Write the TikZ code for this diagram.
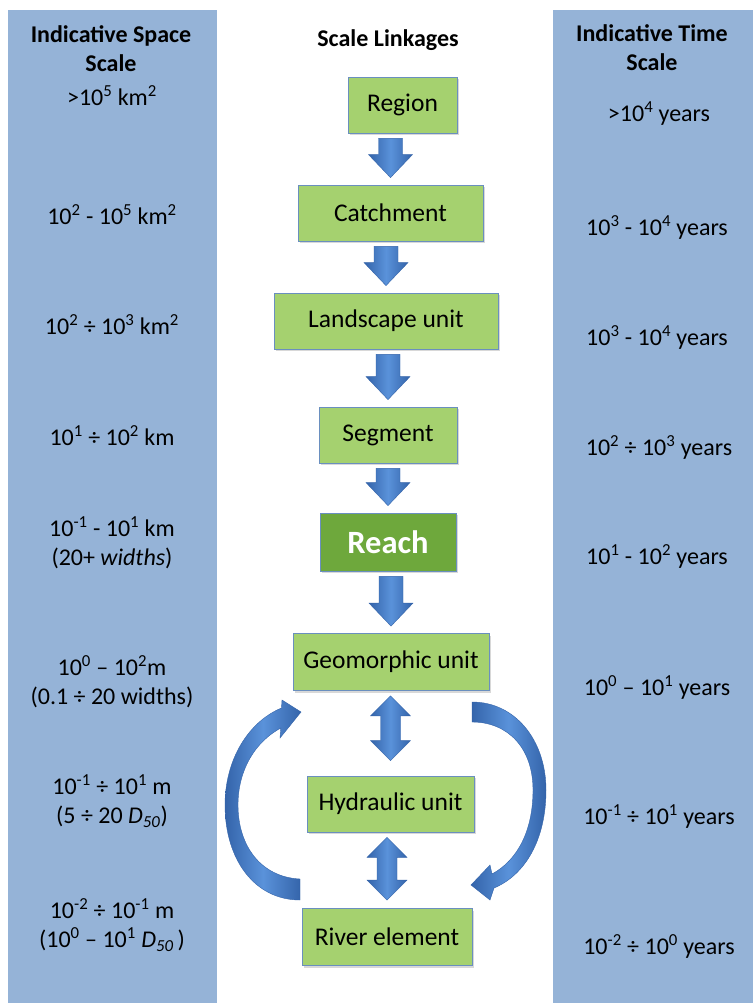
\documentclass[tikz,border=0pt]{standalone}
\usepackage{fontspec}
\setmainfont{Carlito}
\usetikzlibrary{shadows,calc}
\definecolor{panel}{HTML}{95B3D7}
\definecolor{boxgreen}{HTML}{A5D16F}
\definecolor{reachgreen}{HTML}{6EA83C}
\definecolor{boxline}{HTML}{6A8FBF}
\definecolor{arrowdark}{HTML}{3464AA}
\definecolor{arrowlight}{HTML}{5A92DA}
\newcommand\sps[1]{\textsuperscript{#1}}
\newcommand\dfifty{\textit{D}\textsubscript{\textit{50}}}
\newcommand\blkdown[2]{%
 \path[arr] let \p1=(#1.south), \p2=(#2.north) in
 (\x2-12pt,\y1-5pt) -- (\x2+12pt,\y1-5pt) -- (\x2+12pt,\y2+30pt) -- (\x2+22pt,\y2+30pt)
 -- (\x2,\y2+7pt) -- (\x2-22pt,\y2+30pt) -- (\x2-12pt,\y2+30pt) -- cycle;}
\newcommand\blkdouble[4]{%
 \path[arr] let \p1=(#1.south), \p2=(#2.north) in
 (\x2,\y1-#3) -- (\x2+20pt,\y1-#3-20pt) -- (\x2+10pt,\y1-#3-20pt) -- (\x2+10pt,\y2+#4+20pt)
 -- (\x2+20pt,\y2+#4+20pt) -- (\x2,\y2+#4) -- (\x2-20pt,\y2+#4+20pt) -- (\x2-10pt,\y2+#4+20pt)
 -- (\x2-10pt,\y1-#3-20pt) -- (\x2-20pt,\y1-#3-20pt) -- cycle;}
\begin{document}
\begin{tikzpicture}[x=1pt,y=-1pt,
  font=\fontsize{24}{29}\selectfont,
  box/.style={draw=boxline, line width=0.8pt, fill=boxgreen, inner sep=0pt, text=black,
    font=\fontsize{25.5}{30}\selectfont,
    drop shadow={shadow xshift=1.5pt, shadow yshift=-2pt, opacity=0.3}},
  reachbox/.style={box, fill=reachgreen, text=white, font=\fontsize{32.5}{38}\selectfont\bfseries},
  lbl/.style={align=center, inner sep=0pt, text=black},
  hdr/.style={lbl, font=\fontsize{24}{29}\selectfont\bfseries},
  arr/.style={draw=arrowdark, line width=0.4pt, left color=arrowdark, right color=arrowdark, middle color=arrowlight}]
\useasboundingbox (0,0) rectangle (753,1003);
\fill[white] (0,0) rectangle (753,1003);
% side panels
\fill[panel] (8,10) rectangle (217,1003);
\fill[panel] (553,10) rectangle (753,1003);
% headers
\node[hdr] (hs) at (111,49) {Indicative Space\\Scale};
\node[hdr] (hl) at (388,40) {Scale Linkages};
\node[hdr] (ht) at (652,48) {Indicative Time\\Scale};
% boxes
\node[box, minimum width=109pt, minimum height=56pt] (region) at (402.5,105) {Region};
\node[box, minimum width=185pt, minimum height=56pt] (catch) at (390.5,213) {Catchment};
\node[box, minimum width=224pt, minimum height=56pt] (land) at (386,321) {Landscape unit};
\node[box, minimum width=138pt, minimum height=56pt] (seg) at (388,435) {Segment};
\node[reachbox, minimum width=136pt, minimum height=58pt] (reach) at (388,542) {Reach};
\node[box, minimum width=196pt, minimum height=57pt] (geo) at (391,662) {Geomorphic unit};
\node[box, minimum width=167pt, minimum height=56pt] (hyd) at (390.5,804) {Hydraulic unit};
\node[box, minimum width=170pt, minimum height=57pt] (river) at (387,937) {River element};
% arrows
\blkdown{region}{catch}
\blkdown{catch}{land}
\blkdown{land}{seg}
\blkdown{seg}{reach}
\blkdown{reach}{geo}
\blkdouble{geo}{hyd}{5pt}{15pt}
\blkdouble{hyd}{river}{5pt}{8pt}
% curved arrows
\path[arr] (300,879) .. controls (260,877) and (238,845) .. (238,805)
  .. controls (238,770) and (255,742) .. (280.8,728)
  -- (280,738) -- (301,712) -- (282,700) -- (281.5,708)
  .. controls (248,722) and (225,760) .. (225,805)
  .. controls (225,860) and (255,900) .. (300,900) -- cycle;
\path[arr] (472,702) .. controls (515,702) and (546,740) .. (546,790)
  .. controls (546,840) and (525,875) .. (494,888)
  -- (490,900) -- (471,885) -- (490,865) -- (492,874)
  .. controls (518,860) and (533,830) .. (533,790)
  .. controls (533,748) and (508,722) .. (472,722) -- cycle;
% left column
\node[lbl] (s1) at (112,96) {>10\sps{5} km\sps{2}};
\node[lbl] (s2) at (112,215) {10\sps{2} - 10\sps{5} km\sps{2}};
\node[lbl] (s3) at (112,325) {10\sps{2} ÷ 10\sps{3} km\sps{2}};
\node[lbl] (s4) at (112,436) {10\sps{1} ÷ 10\sps{2} km};
\node[lbl] (s5) at (112,543) {10\sps{-1} - 10\sps{1} km\\(20+ \textit{widths})};
\node[lbl] (s6) at (112,682) {10\sps{0} – 10\sps{2}m\\(0.1 ÷ 20 widths)};
\node[lbl] (s7) at (112,801) {10\sps{-1} ÷ 10\sps{1} m\\(5 ÷ 20 \dfifty)};
\node[lbl] (s8) at (112,925) {10\sps{-2} ÷ 10\sps{-1} m\\(10\sps{0} – 10\sps{1} \dfifty\,)};
% right column
\node[lbl] (t1) at (659,114) {>10\sps{4} years};
\node[lbl] (t2) at (657,227) {10\sps{3} - 10\sps{4} years};
\node[lbl] (t3) at (657,337) {10\sps{3} - 10\sps{4} years};
\node[lbl] (t4) at (659,447) {10\sps{2} ÷ 10\sps{3} years};
\node[lbl] (t5) at (657,556) {10\sps{1} - 10\sps{2} years};
\node[lbl] (t6) at (657,687) {10\sps{0} – 10\sps{1} years};
\node[lbl] (t7) at (659,817) {10\sps{-1} ÷ 10\sps{1} years};
\node[lbl] (t8) at (659,946) {10\sps{-2} ÷ 10\sps{0} years};
\end{tikzpicture}
\end{document}
